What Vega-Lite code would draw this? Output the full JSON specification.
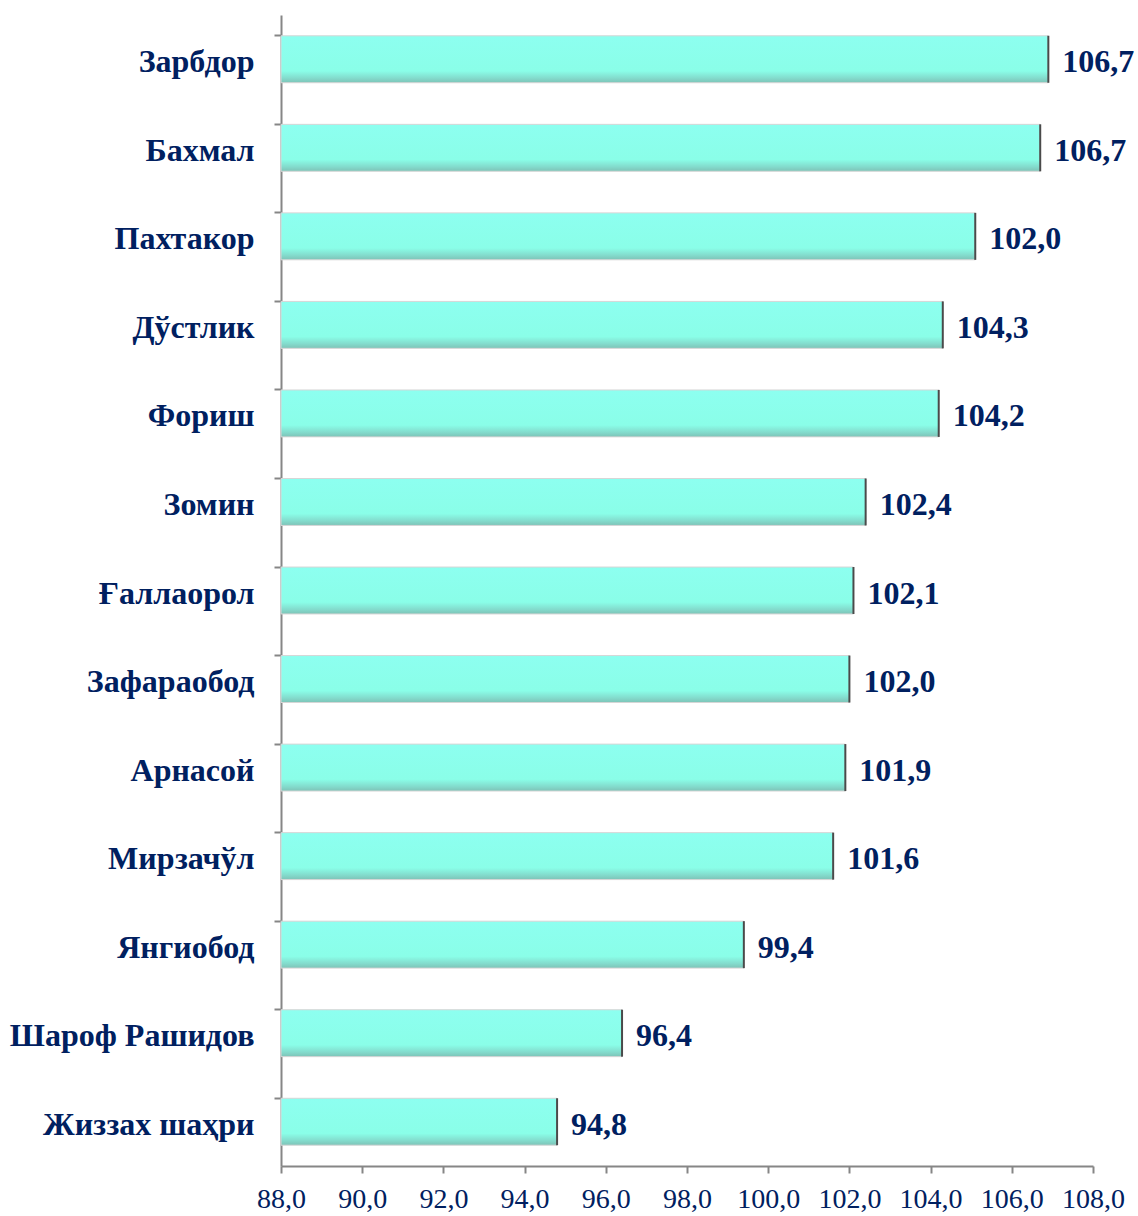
{
  "$schema": "https://vega.github.io/schema/vega-lite/v6.json",
  "width": 812,
  "height": 1151,
  "autosize": {"type": "none"},
  "padding": {"left": 281, "top": 15, "right": 45, "bottom": 50},
  "background": "white",
  "config": {"view": {"stroke": null}},
  "data": {
    "values": [
      {"district": "Зарбдор", "value": 106.9, "label": "106,7"},
      {"district": "Бахмал", "value": 106.7, "label": "106,7"},
      {"district": "Пахтакор", "value": 105.1, "label": "102,0"},
      {"district": "Дўстлик", "value": 104.3, "label": "104,3"},
      {"district": "Фориш", "value": 104.2, "label": "104,2"},
      {"district": "Зомин", "value": 102.4, "label": "102,4"},
      {"district": "Ғаллаорол", "value": 102.1, "label": "102,1"},
      {"district": "Зафараобод", "value": 102.0, "label": "102,0"},
      {"district": "Арнасой", "value": 101.9, "label": "101,9"},
      {"district": "Мирзачўл", "value": 101.6, "label": "101,6"},
      {"district": "Янгиобод", "value": 99.4, "label": "99,4"},
      {"district": "Шароф Рашидов", "value": 96.4, "label": "96,4"},
      {"district": "Жиззах шаҳри", "value": 94.8, "label": "94,8"}
    ]
  },
  "encoding": {
    "y": {
      "field": "district",
      "type": "nominal",
      "sort": null,
      "title": null,
      "scale": {"paddingInner": 0.47, "paddingOuter": 0.235},
      "axis": {
        "bandPosition": 0,
        "domainColor": "#868686",
        "domainWidth": 2,
        "tickColor": "#868686",
        "tickWidth": 2,
        "tickSize": 7,
        "labelPadding": 20,
        "labelOffset": 3,
        "labelFont": "Liberation Serif",
        "labelFontSize": 32,
        "labelFontWeight": "bold",
        "labelColor": "#002060",
        "labelLimit": 400
      }
    }
  },
  "layer": [
    {
      "mark": {
        "type": "bar",
        "color": {
          "gradient": "linear",
          "x1": 0, "y1": 0, "x2": 0, "y2": 1,
          "stops": [
            {"offset": 0, "color": "#8dfff0"},
            {"offset": 0.75, "color": "#8afee8"},
            {"offset": 0.9, "color": "#83dccd"},
            {"offset": 1, "color": "#7ec3b7"}
          ]
        },
        "stroke": "#d6d6d6",
        "strokeWidth": 1
      },
      "encoding": {
        "x": {
          "field": "value",
          "type": "quantitative",
          "title": null,
          "scale": {"domain": [88, 108], "zero": false, "nice": false},
          "axis": {
            "values": [88, 90, 92, 94, 96, 98, 100, 102, 104, 106, 108],
            "grid": false,
            "domainColor": "#868686",
            "domainWidth": 2,
            "tickColor": "#868686",
            "tickWidth": 2,
            "tickSize": 7,
            "labelPadding": 12,
            "labelFont": "Liberation Serif",
            "labelFontSize": 28,
            "labelColor": "#002060",
            "labelOverlap": false,
            "labelFlush": false,
            "labelBound": false,
            "labelExpr": "replace(format(datum.value, '.1f'), '.', ',')"
          }
        },
        "x2": {"datum": 88}
      }
    },
    {
      "mark": {"type": "tick", "color": "#4a4a4a", "thickness": 2, "size": 47, "opacity": 1},
      "encoding": {
        "x": {"field": "value", "type": "quantitative"}
      }
    },
    {
      "mark": {
        "type": "text",
        "align": "left",
        "baseline": "middle",
        "dx": 14,
        "dy": 3,
        "font": "Liberation Serif",
        "fontSize": 32,
        "fontWeight": "bold",
        "color": "#002060"
      },
      "encoding": {
        "x": {"field": "value", "type": "quantitative"},
        "text": {"field": "label"}
      }
    }
  ]
}
